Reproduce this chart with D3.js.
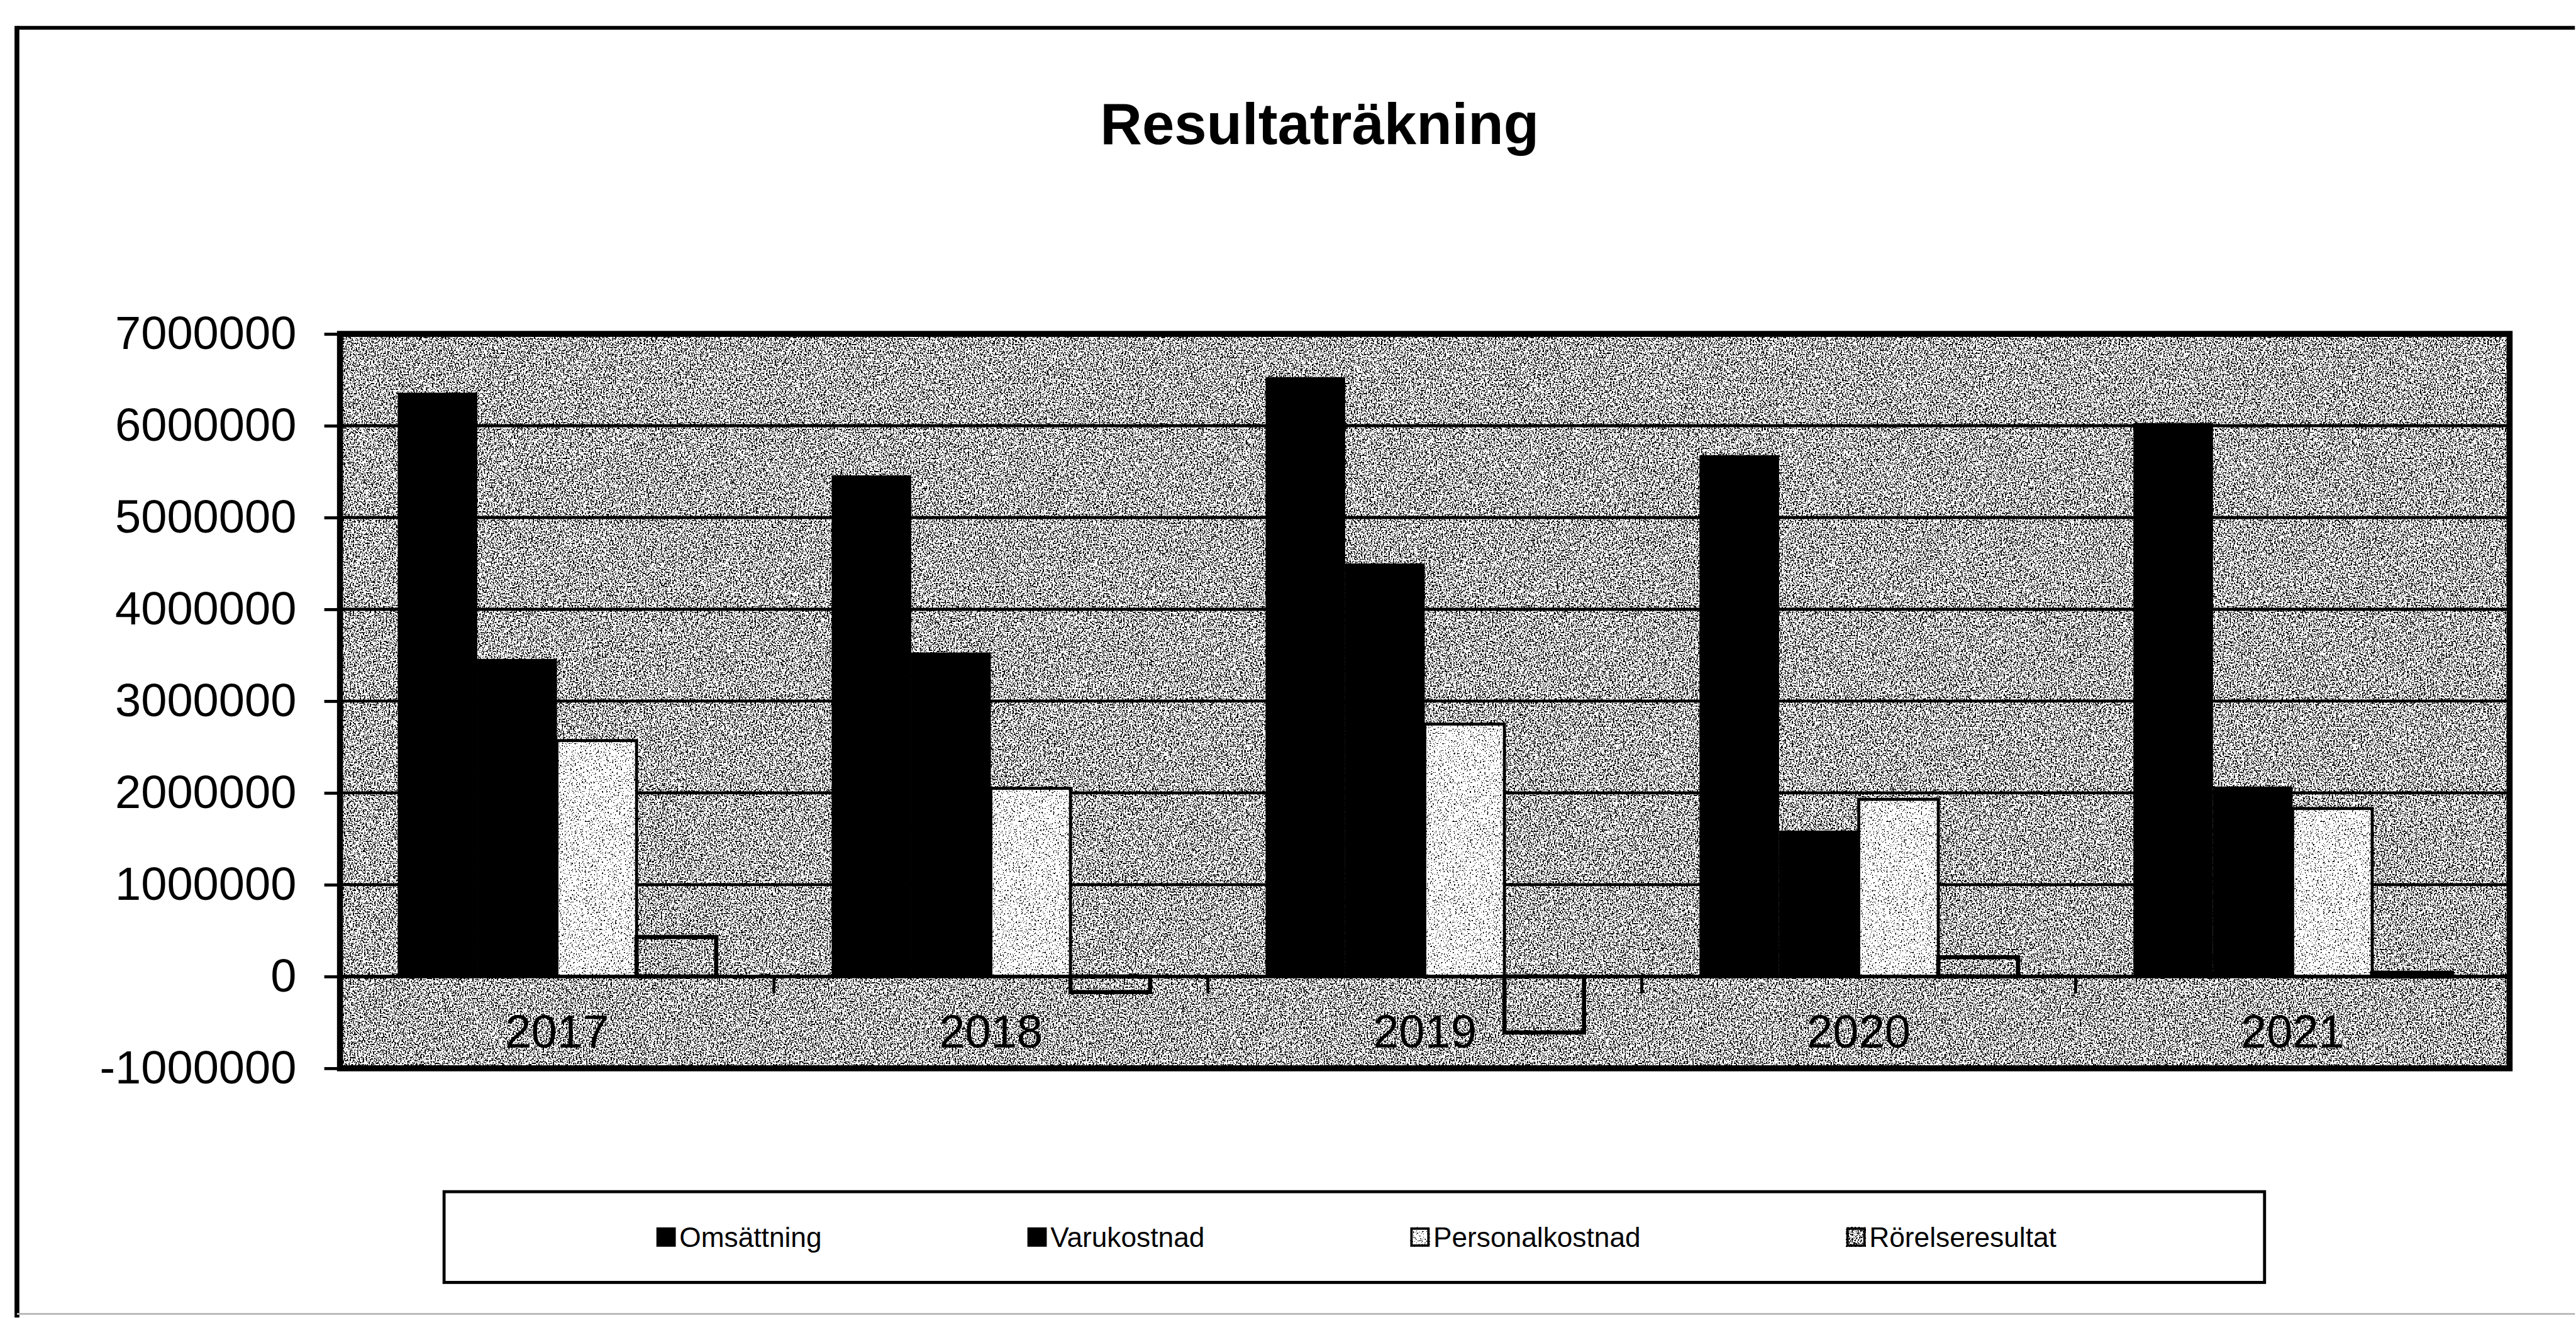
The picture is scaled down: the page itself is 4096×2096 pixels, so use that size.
<!DOCTYPE html>
<html>
<head>
<meta charset="utf-8">
<script src="https://cdn.jsdelivr.net/npm/d3@7"></script>
<style>
  html, body { margin: 0; padding: 0; background: #fff; }
  svg { display: block; }
  text { font-family: "Liberation Sans", Arial, sans-serif; fill: #000; }
</style>
</head>
<body>
<script>
// data
var years = ["2017", "2018", "2019", "2020", "2021"];
var seriesNames = ["Omsättning", "Varukostnad", "Personalkostnad", "Rörelseresultat"];
var omsattning      = [6360000, 5460000, 6530000, 5680000, 6030000];
var varukostnad     = [3460000, 3530000, 4500000, 1590000, 2070000];
var personalkostnad = [2570000, 2050000, 2750000, 1930000, 1830000];
var rorelseresultat = [430000, -170000, -610000, 210000, 40000];
var yTicks = [-1000000, 0, 1000000, 2000000, 3000000, 4000000, 5000000, 6000000, 7000000];
var yTickLabels = ["-1000000", "0", "1000000", "2000000", "3000000", "4000000", "5000000", "6000000", "7000000"];
var chartTitle = "Resultaträkning";

var seriesValues = [omsattning, varukostnad, personalkostnad, rorelseresultat];
var styleOf = ["solid", "solid", "light", "bg"];

// layout in reference pixels, scaled down by k
var k = 0.962;
var W = 4096, H = 2096;
var plot = {left: 562, right: 4148, top: 552, bottom: 1766};

var svg = d3.select("body").append("svg")
    .attr("width", W)
    .attr("height", H);

// speckled fills like the scanned halftone
var defs = svg.append("defs");
function speckle(id, cut, seed) {
  var f = defs.append("filter").attr("id", id)
      .attr("x", 0).attr("y", 0).attr("width", 1).attr("height", 1)
      .attr("color-interpolation-filters", "sRGB");
  f.append("feTurbulence").attr("type", "fractalNoise")
      .attr("baseFrequency", 0.42).attr("numOctaves", 2).attr("seed", seed);
  f.append("feColorMatrix").attr("type", "matrix")
      .attr("values", "1 0 0 0 0  1 0 0 0 0  1 0 0 0 0  0 0 0 0 1");
  var table = d3.range(40).map(function(i) { return i < cut ? 0 : 1; }).join(" ");
  var ct = f.append("feComponentTransfer");
  ["feFuncR", "feFuncG", "feFuncB"].forEach(function(n) {
    ct.append(n).attr("type", "discrete").attr("tableValues", table);
  });
}
speckle("bgSpeckle", 18, 3);
speckle("lightSpeckle", 14, 9);

var g = svg.append("g").attr("transform", "scale(" + k + ")");

// outer chart frame (left + top edges visible on the scan)
g.append("line").attr("x1", 28).attr("y1", 46).attr("x2", 4256).attr("y2", 46)
    .attr("stroke", "#000").attr("stroke-width", 6);
g.append("line").attr("x1", 28).attr("y1", 43).attr("x2", 28).attr("y2", 2178)
    .attr("stroke", "#000").attr("stroke-width", 8);
g.append("line").attr("x1", 28).attr("y1", 2172).attr("x2", 4256).attr("y2", 2172)
    .attr("stroke", "#bbb").attr("stroke-width", 3);

// title
g.append("text")
    .attr("x", 2181)
    .attr("y", 238)
    .attr("text-anchor", "middle")
    .attr("font-size", 96)
    .attr("font-weight", "bold")
    .text(chartTitle);

// scales
var x0 = d3.scaleBand()
    .domain(years)
    .range([plot.left, plot.right])
    .padding(0);
var x1 = d3.scaleBand()
    .domain(seriesNames)
    .range([0, x0.bandwidth()])
    .paddingInner(0)
    .paddingOuter(0.725);
var y = d3.scaleLinear()
    .domain([-1000000, 7000000])
    .range([plot.bottom, plot.top]);

// plot background
g.append("rect")
    .attr("x", plot.left).attr("y", plot.top)
    .attr("width", plot.right - plot.left)
    .attr("height", plot.bottom - plot.top)
    .attr("fill", "#aaa")
    .attr("filter", "url(#bgSpeckle)");

// gridlines
g.append("g").selectAll("line")
    .data(yTicks.slice(1, -1))
    .enter().append("line")
    .attr("x1", plot.left).attr("x2", plot.right)
    .attr("y1", function(d) { return y(d); })
    .attr("y2", function(d) { return y(d); })
    .attr("stroke", "#000")
    .attr("stroke-width", 5);

// y axis
var yAxis = g.append("g")
    .attr("transform", "translate(" + plot.left + ",0)")
    .call(d3.axisLeft(y)
      .tickValues(yTicks)
      .tickFormat(function(d, i) { return yTickLabels[i]; })
      .tickSize(26)
      .tickPadding(46));
yAxis.select(".domain").remove();
yAxis.selectAll(".tick line").attr("stroke", "#000").attr("stroke-width", 5);
yAxis.selectAll(".tick text")
    .attr("font-size", 77)
    .attr("font-family", "'Liberation Sans', Arial, sans-serif")
    .attr("fill", "#000");

// bars
var groups = g.append("g").selectAll("g")
    .data(years)
    .enter().append("g")
    .attr("transform", function(d) { return "translate(" + x0(d) + ",0)"; });

groups.each(function(year, yi) {
  var grp = d3.select(this);
  seriesNames.forEach(function(name, si) {
    var v = seriesValues[si][yi];
    var top = Math.min(y(0), y(v));
    var h = Math.abs(y(v) - y(0));
    var st = styleOf[si];
    if (st === "solid") {
      grp.append("rect")
        .attr("x", x1(name)).attr("y", top)
        .attr("width", x1.bandwidth()).attr("height", h)
        .attr("fill", "#000");
    } else {
      grp.append("rect")
        .attr("x", x1(name)).attr("y", top)
        .attr("width", x1.bandwidth()).attr("height", h)
        .attr("fill", "#ccc")
        .attr("filter", st === "light" ? "url(#lightSpeckle)" : "url(#bgSpeckle)");
      grp.append("rect")
        .attr("x", x1(name)).attr("y", top)
        .attr("width", x1.bandwidth()).attr("height", h)
        .attr("fill", "none")
        .attr("stroke", "#000")
        .attr("stroke-width", st === "light" ? 5 : 7);
    }
  });
});

// zero line / category axis
g.append("line")
    .attr("x1", plot.left).attr("x2", plot.right)
    .attr("y1", y(0)).attr("y2", y(0))
    .attr("stroke", "#000").attr("stroke-width", 6);

var xAxis = g.append("g")
    .attr("transform", "translate(0," + y(0) + ")")
    .call(d3.axisBottom(x0).tickSize(0).tickPadding(63));
xAxis.select(".domain").remove();
xAxis.selectAll(".tick text")
    .attr("font-size", 77)
    .attr("font-family", "'Liberation Sans', Arial, sans-serif")
    .attr("fill", "#000");

// category boundary ticks
g.append("g").selectAll("line")
    .data(years.slice(1))
    .enter().append("line")
    .attr("x1", function(d) { return x0(d); })
    .attr("x2", function(d) { return x0(d); })
    .attr("y1", y(0)).attr("y2", y(0) + 28)
    .attr("stroke", "#000").attr("stroke-width", 5);

// plot border
g.append("rect")
    .attr("x", plot.left).attr("y", plot.top)
    .attr("width", plot.right - plot.left)
    .attr("height", plot.bottom - plot.top)
    .attr("fill", "none")
    .attr("stroke", "#000")
    .attr("stroke-width", 10);

// legend
var legBox = {x: 734, y: 1970, w: 3009, h: 150};
g.append("rect")
    .attr("x", legBox.x).attr("y", legBox.y)
    .attr("width", legBox.w).attr("height", legBox.h)
    .attr("fill", "#fff")
    .attr("stroke", "#000")
    .attr("stroke-width", 5);

var legFont = 46, markSize = 32, markGap = 6, itemGap = 340;
var leg = g.append("g");
var items = leg.selectAll("g")
    .data(seriesNames)
    .enter().append("g");
items.append("text")
    .attr("font-size", legFont)
    .attr("x", markSize + markGap)
    .attr("y", legBox.y + legBox.h / 2 + legFont * 0.36)
    .text(function(d) { return d; });
items.each(function(d, i) {
  var it = d3.select(this);
  var st = styleOf[i];
  var my = legBox.y + legBox.h / 2 - markSize / 2;
  if (st === "solid") {
    it.append("rect").attr("x", 0).attr("y", my)
      .attr("width", markSize).attr("height", markSize).attr("fill", "#000");
  } else {
    it.append("rect").attr("x", 0).attr("y", my)
      .attr("width", markSize).attr("height", markSize)
      .attr("fill", "#ccc")
      .attr("filter", st === "light" ? "url(#lightSpeckle)" : "url(#bgSpeckle)");
    it.append("rect").attr("x", 2).attr("y", my + 2)
      .attr("width", markSize - 4).attr("height", markSize - 4)
      .attr("fill", "none").attr("stroke", "#000").attr("stroke-width", 4);
  }
});
var widths = [];
items.select("text").each(function() { widths.push(this.getComputedTextLength() + markSize + markGap); });
var total = d3.sum(widths) + itemGap * (widths.length - 1);
var cx = 2242;
var pos = cx - total / 2;
items.attr("transform", function(d, i) {
  var p = pos;
  pos += widths[i] + itemGap;
  return "translate(" + p + ",0)";
});
</script>
</body>
</html>
